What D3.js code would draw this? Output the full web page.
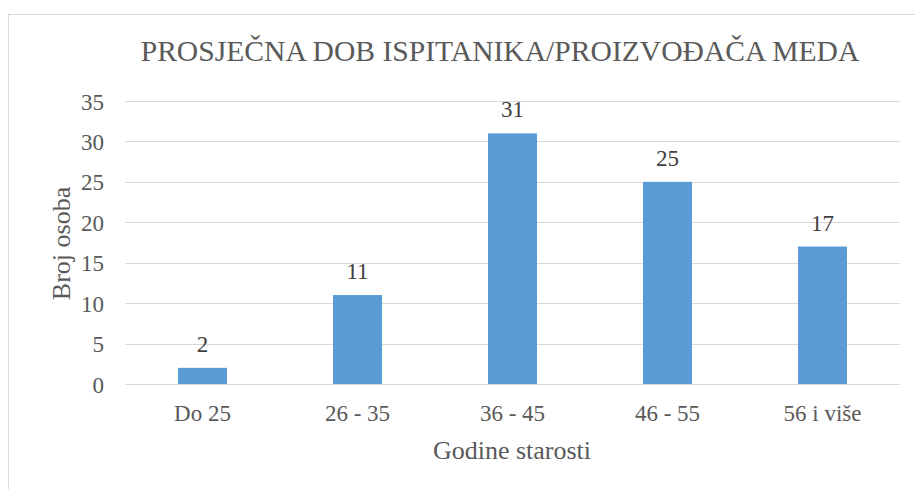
<!DOCTYPE html>
<html><head><meta charset="utf-8">
<script src="https://cdn.jsdelivr.net/npm/d3@7"></script>
<style>body{margin:0;background:#fff}svg{display:block}</style>
</head><body><svg id="c" width="915" height="489"></svg>
<script>
const categories = ["Do 25", "26 - 35", "36 - 45", "46 - 55", "56 i više"];
const values = [2, 11, 31, 25, 17];
const yTicks = [0, 5, 10, 15, 20, 25, 30, 35];
const title = "PROSJEČNA DOB ISPITANIKA/PROIZVOĐAČA MEDA";
const xTitle = "Godine starosti";
const yTitle = "Broj osoba";

const FONT = "Liberation Serif";
const svg = d3.select("#c");
svg.append("rect").attr("x", 8.5).attr("y", 14.5).attr("width", 920).attr("height", 490)
  .attr("fill", "#fff").attr("stroke", "#D9D9D9").attr("stroke-width", 1);

const x = d3.scaleBand().domain(categories).range([125, 900]).paddingInner(0.684).paddingOuter(0.342);
const y = d3.scaleLinear().domain([0, 35]).range([384, 101]);

function serif(sel) {
  return sel.attr("font-family", FONT).style("font-family", FONT);
}

// gridlines
svg.append("g").selectAll("line").data(yTicks).join("line")
  .attr("x1", 125).attr("x2", 900)
  .attr("y1", d => Math.round(y(d)) + 0.5).attr("y2", d => Math.round(y(d)) + 0.5)
  .attr("stroke", "#D9D9D9").attr("stroke-width", 1);

// y axis labels
const yAxis = d3.axisLeft(y).tickValues(yTicks).tickSize(0).tickPadding(0);
const gy = svg.append("g").attr("transform", "translate(104,0)").call(yAxis);
gy.select(".domain").remove();
serif(gy.selectAll("text")).attr("font-size", 23).attr("dy", "0.35em").attr("fill", "#595959");

// bars
svg.append("g").selectAll("rect").data(values).join("rect")
  .attr("x", (d, i) => x(categories[i])).attr("width", x.bandwidth())
  .attr("y", d => y(d)).attr("height", d => y(0) - y(d)).attr("fill", "#5B9BD5");

// baseline
svg.append("line").attr("x1", 125).attr("x2", 900).attr("y1", 384.5).attr("y2", 384.5)
  .attr("stroke", "#D9D9D9");

// data labels
serif(svg.append("g").selectAll("text").data(values).join("text"))
  .attr("x", (d, i) => x(categories[i]) + x.bandwidth() / 2)
  .attr("y", d => y(d) - 16).attr("text-anchor", "middle").attr("font-size", 23)
  .attr("fill", "#404040").text(d => d);

// x axis labels
const xAxis = d3.axisBottom(x).tickSize(0).tickPadding(0);
const gx = svg.append("g").attr("transform", "translate(0,405)").call(xAxis);
gx.select(".domain").remove();
serif(gx.selectAll("text")).attr("font-size", 23).attr("dy", "0.71em").attr("fill", "#595959");

// titles
serif(svg.append("text")).attr("x", 500).attr("y", 61).attr("text-anchor", "middle")
  .attr("font-size", 29.6).attr("fill", "#595959").text(title);
serif(svg.append("text")).attr("x", 512).attr("y", 459).attr("text-anchor", "middle")
  .attr("font-size", 26).attr("fill", "#595959").text(xTitle);
serif(svg.append("text")).attr("transform", "translate(70,243.5) rotate(-90)").attr("text-anchor", "middle")
  .attr("font-size", 26).attr("fill", "#595959").text(yTitle);
</script></body></html>
